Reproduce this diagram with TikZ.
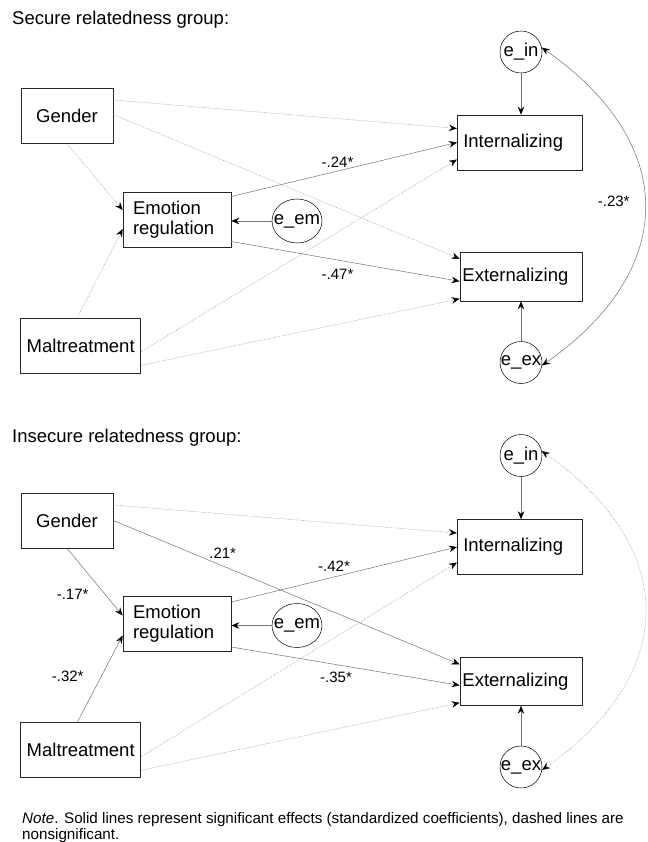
\documentclass[tikz,border=0pt]{standalone}
\usepackage{fontspec}
\setmainfont{Liberation Sans}
\usetikzlibrary{arrows.meta,shapes.geometric,positioning}

\tikzset{
    >={Stealth[length=8pt,width=6.5pt,inset=2.8pt,color=black]},
    var/.style={draw=black!85, line width=0.7pt, minimum height=55pt, inner sep=2pt,
        font=\fontsize{18.5}{20}\selectfont},
    err/.style={ellipse, draw, line width=0.5pt, inner sep=0pt, minimum width=42pt,
        minimum height=42pt, font=\fontsize{18.5}{20}\selectfont},
    sig/.style={->, draw=black!55, line width=0.5pt},
    nsig/.style={sig, draw=black!40, dash pattern=on 0.7pt off 1pt},
    coef/.style={inner sep=0pt, font=\fontsize{15}{18}\selectfont},
    grp/.style={anchor=base west, inner sep=0pt, font=\fontsize{18.5}{20}\selectfont},
    notetext/.style={anchor=base west, inner sep=0pt, font=\fontsize{15.2}{17}\selectfont}
}

\begin{document}
\begin{tikzpicture}[x=1pt, y=-1pt]
\useasboundingbox (0,0) rectangle (647,842);
\fill[white] (0,0) rectangle (647,842);

\node[grp] (title1) at (12,25) {Secure relatedness group:};
\node[grp] (title2) at (12,442) {Insecure relatedness group:};

% secure group
\node[var, minimum width=92pt] (gen1) at (67,116) {Gender};
\node[var, text width=88pt, inner xsep=10pt, align=left] (emo1) at (177,219.5) {Emotion\\regulation};
\node[var, minimum width=120pt] (mal1) at (80.7,345.8) {Maltreatment};
\node[var, text width=113pt, inner xsep=6pt, align=left] (int1) at (519.8,142.5) {Internalizing};
\node[var, text width=117.7pt, inner xsep=2.5pt, align=left, minimum height=48.3pt] (ext1) at (521.3,276.8) {Externalizing};
\node[err] (ein1) at (521,52) {\makebox[0pt]{e\_in}};
\node[err, minimum width=50pt, minimum height=44pt] (eem1) at (297,221) {\makebox[0pt]{e\_em}};
\node[err] (eex1) at (521,362.5) {\makebox[0pt]{e\_ex}};

\draw[nsig] ([yshift=16pt]gen1.east) -- ([yshift=14pt]int1.west);
\draw[nsig] ([yshift=1.5pt]gen1.east) -- ([yshift=18pt]ext1.west);
\draw[nsig] (gen1.south) -- ([yshift=9.5pt]emo1.west);
\draw[nsig] ([xshift=-3.5pt]mal1.north) -- ([yshift=-9.5pt]emo1.west);
\draw[nsig] ([yshift=-6pt]mal1.east) -- ([yshift=-17pt]int1.west);
\draw[nsig] ([yshift=-19.5pt]mal1.east) -- ([yshift=-22pt]ext1.west);
\draw[sig] ([yshift=23pt]emo1.east) -- (int1.west);
\draw[sig] ([yshift=-22pt]emo1.east) -- ([yshift=-4.5pt]ext1.west);
\draw[sig] (eem1.west) -- (eem1.west -| emo1.east);
\draw[sig] (ein1.south) -- (ein1.south |- int1.north);
\draw[sig] (eex1.north) -- (eex1.north |- ext1.south);
\draw[sig, <->] (ein1.12) to[out=-35, in=35, looseness=1.35] (eex1.-8);

\node[coef] (c24) at (337.5,162.7) {-.24*};
\node[coef] (c47) at (337.5,274) {-.47*};
\node[coef] (c23) at (613.7,201) {-.23*};

% insecure group
\begin{scope}[yshift=-404.5pt]
\node[var, minimum width=92pt] (gen2) at (67,116) {Gender};
\node[var, text width=88pt, inner xsep=10pt, align=left] (emo2) at (177,219.5) {Emotion\\regulation};
\node[var, minimum width=120pt] (mal2) at (80.7,345.8) {Maltreatment};
\node[var, text width=113pt, inner xsep=6pt, align=left] (int2) at (519.8,142.5) {Internalizing};
\node[var, text width=117.7pt, inner xsep=2.5pt, align=left, minimum height=48.3pt] (ext2) at (521.3,276.8) {Externalizing};
\node[err] (ein2) at (521,51) {\makebox[0pt]{e\_in}};
\node[err, minimum width=50pt, minimum height=44pt] (eem2) at (297,221) {\makebox[0pt]{e\_em}};
\node[err] (eex2) at (521,362.5) {\makebox[0pt]{e\_ex}};

\draw[nsig] ([yshift=15.5pt]gen2.east) -- ([yshift=14pt]int2.west);
\draw[sig] (gen2.east) -- ([yshift=17pt]ext2.west);
\draw[sig] (gen2.south) -- ([yshift=8.5pt]emo2.west);
\draw[sig] ([xshift=-3.5pt]mal2.north) -- ([yshift=-11.5pt]emo2.west);
\draw[nsig] ([yshift=-6.5pt]mal2.east) -- ([yshift=-15.5pt]int2.west);
\draw[nsig] ([yshift=-20pt]mal2.east) -- ([yshift=-21.5pt]ext2.west);
\draw[sig] ([yshift=22pt]emo2.east) -- (int2.west);
\draw[sig] ([yshift=-23pt]emo2.east) -- ([yshift=-4pt]ext2.west);
\draw[sig] (eem2.west) -- (eem2.west -| emo2.east);
\draw[sig] (ein2.south) -- (ein2.south |- int2.north);
\draw[sig] (eex2.north) -- (eex2.north |- ext2.south);
\draw[nsig, <->] (ein2.12) to[out=-35, in=35, looseness=1.35] (eex2.-8);
\end{scope}

\node[coef] (c21) at (222.7,553.3) {.21*};
\node[coef] (c42) at (334,566.7) {-.42*};
\node[coef] (c35) at (336,677.3) {-.35*};
\node[coef] (c17) at (72.6,594) {-.17*};
\node[coef] (c32) at (67.7,676.7) {-.32*};

\node[notetext] (note1) at (22,823.5) {\textit{Note}. Solid lines represent significant effects (standardized coefficients), dashed lines are};
\node[notetext] (note2) at (22,839) {nonsignificant.};
\end{tikzpicture}
\end{document}
